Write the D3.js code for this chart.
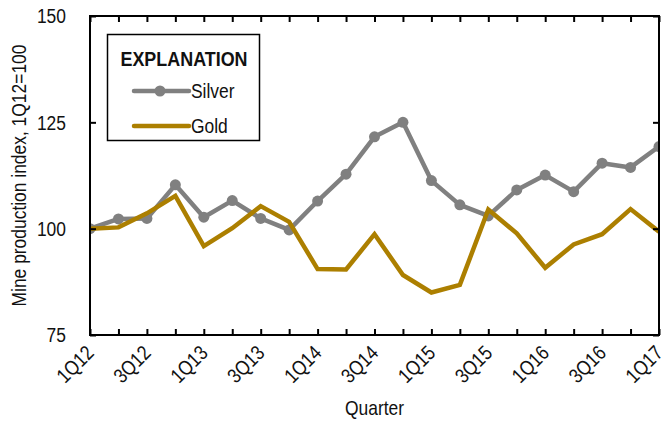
<!DOCTYPE html>
<html>
<head>
<meta charset="utf-8">
<script src="https://cdn.jsdelivr.net/npm/d3@7"></script>
<style>
  html, body { margin: 0; padding: 0; background: #fff; }
  svg { display: block; }
  text { font-family: "Liberation Sans", Arial, sans-serif; fill: #111; }
</style>
</head>
<body>
<svg id="chart" width="661" height="424"></svg>
<script>
// Quarterly mine production index, 1Q12 = 100
const quarters = ["1Q12","2Q12","3Q12","4Q12","1Q13","2Q13","3Q13","4Q13","1Q14","2Q14","3Q14",
                  "4Q14","1Q15","2Q15","3Q15","4Q15","1Q16","2Q16","3Q16","4Q16","1Q17"];
const silver = [100, 102.3, 102.4, 110.3, 102.7, 106.6, 102.4, 99.7, 106.5, 112.8, 121.6,
                125, 111.3, 105.6, 103, 109.1, 112.6, 108.7, 115.4, 114.4, 119.3];
const gold   = [100, 100.3, 103.6, 107.7, 95.9, 100.1, 105.3, 101.6, 90.5, 90.4, 98.7,
                89.1, 85, 86.8, 104.5, 98.9, 90.8, 96.3, 98.7, 104.6, 99.3];
const xTickLabels = ["1Q12","3Q12","1Q13","3Q13","1Q14","3Q14","1Q15","3Q15","1Q16","3Q16","1Q17"];
const yTicks = [75, 100, 125, 150];

const svg = d3.select("#chart");
const mLeft = 90, mRight = 659, mTop = 16, mBottom = 335;

const x = d3.scalePoint().domain(quarters).range([mLeft, mRight]);
const y = d3.scaleLinear().domain([75, 150]).range([mBottom, mTop]);

const fontSize = 20.5;
const tickLen = 6;
// Horizontal squeeze giving a narrow sans face
const narrow = "scale(0.85,1)";

// Series lines
const line = d3.line().x((d, i) => x(quarters[i])).y(d => y(d));

svg.append("clipPath").attr("id", "plotclip")
  .append("rect").attr("x", mLeft).attr("y", mTop).attr("width", mRight - mLeft).attr("height", mBottom - mTop);

const plot = svg.append("g").attr("clip-path", "url(#plotclip)");

plot.append("path").datum(silver)
  .attr("d", line).attr("fill", "none")
  .attr("stroke", "#808080").attr("stroke-width", 4.5).attr("stroke-linejoin", "round");
plot.selectAll("circle.silver").data(silver).enter().append("circle")
  .attr("class", "silver")
  .attr("cx", (d, i) => x(quarters[i])).attr("cy", d => y(d)).attr("r", 5.5)
  .attr("fill", "#808080");

plot.append("path").datum(gold)
  .attr("d", line).attr("fill", "none")
  .attr("stroke", "#AC7F00").attr("stroke-width", 4.5).attr("stroke-linejoin", "miter");

// Frame
svg.append("rect").attr("x", mLeft).attr("y", mTop).attr("width", mRight - mLeft).attr("height", mBottom - mTop)
  .attr("fill", "none").attr("stroke", "#000").attr("stroke-width", 2);

// Inward ticks on all four sides
const bottomAxis = d3.axisBottom(x).tickSize(-tickLen).tickFormat("");
const topAxis = d3.axisTop(x).tickSize(-tickLen).tickFormat("");
const leftAxis = d3.axisLeft(y).tickValues(yTicks).tickSize(-tickLen).tickFormat("");
const rightAxis = d3.axisRight(y).tickValues(yTicks).tickSize(-tickLen).tickFormat("");

function styleAxis(g) {
  g.select(".domain").remove();
  g.selectAll(".tick line").attr("stroke", "#000").attr("stroke-width", 2);
}
svg.append("g").attr("transform", `translate(0,${mBottom})`).call(bottomAxis).call(styleAxis);
svg.append("g").attr("transform", `translate(0,${mTop})`).call(topAxis).call(styleAxis);
svg.append("g").attr("transform", `translate(${mLeft},0)`).call(leftAxis).call(styleAxis);
svg.append("g").attr("transform", `translate(${mRight},0)`).call(rightAxis).call(styleAxis);

// Y tick labels
svg.append("g").selectAll("text").data(yTicks).enter().append("text")
  .attr("transform", d => `translate(66,${y(d)}) ${narrow}`)
  .attr("dy", "0.36em")
  .attr("text-anchor", "end").attr("font-size", fontSize)
  .text(d => d);

// X tick labels, rotated
svg.append("g").selectAll("text").data(xTickLabels).enter().append("text")
  .attr("transform", d => `translate(${x(d)},${mBottom + 14}) rotate(-45) ${narrow}`)
  .attr("dy", "0.36em")
  .attr("text-anchor", "end").attr("font-size", fontSize)
  .text(d => d);

// Axis titles
svg.append("text")
  .attr("transform", `translate(${(mLeft + mRight) / 2},415) ${narrow}`)
  .attr("text-anchor", "middle").attr("font-size", fontSize)
  .text("Quarter");
svg.append("text")
  .attr("transform", `translate(26,${(mTop + mBottom) / 2}) rotate(-90) ${narrow}`)
  .attr("text-anchor", "middle").attr("font-size", fontSize)
  .text("Mine production index, 1Q12=100");

// Legend
const lg = svg.append("g");
lg.append("rect").attr("x", 107.5).attr("y", 34.5).attr("width", 152).attr("height", 106)
  .attr("fill", "#fff").attr("stroke", "#000").attr("stroke-width", 1.5);
lg.append("text").attr("transform", "translate(184,65.5) scale(0.92,1)")
  .attr("text-anchor", "middle").attr("font-size", 19.5).attr("font-weight", "bold")
  .text("EXPLANATION");
lg.append("line").attr("x1", 134).attr("x2", 189).attr("y1", 91).attr("y2", 91)
  .attr("stroke", "#808080").attr("stroke-width", 4.5).attr("stroke-linecap", "round");
lg.append("circle").attr("cx", 160).attr("cy", 91).attr("r", 5.5).attr("fill", "#808080");
lg.append("text").attr("transform", `translate(191,98) ${narrow}`).attr("font-size", fontSize).text("Silver");
lg.append("line").attr("x1", 134).attr("x2", 189).attr("y1", 126).attr("y2", 126)
  .attr("stroke", "#AC7F00").attr("stroke-width", 4.5).attr("stroke-linecap", "round");
lg.append("text").attr("transform", `translate(191,133) ${narrow}`).attr("font-size", fontSize).text("Gold");
</script>
</body>
</html>
